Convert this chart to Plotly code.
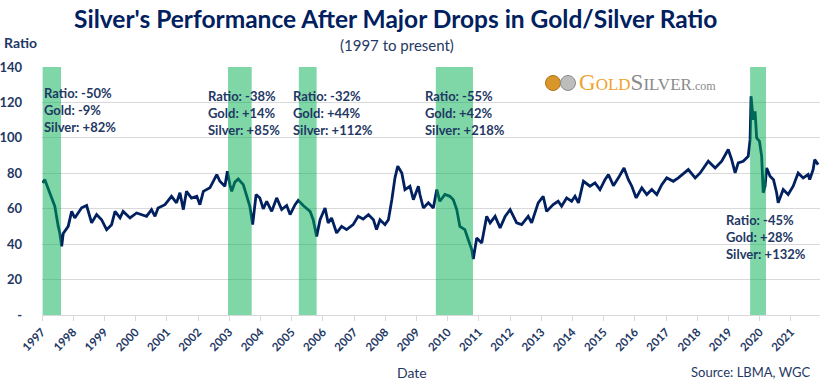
import plotly.graph_objects as go

# ---- data (gold/silver ratio) ----
years = [1997.02, 1997.09, 1997.25, 1997.41, 1997.52, 1997.57, 1997.63, 1997.68, 1997.84, 1997.95,
         1998.05, 1998.27, 1998.43, 1998.59, 1998.75, 1998.91, 1999.07, 1999.23, 1999.34, 1999.50,
         1999.60, 1999.82, 2000.03, 2000.35, 2000.51, 2000.62, 2000.72, 2000.94, 2001.15, 2001.31,
         2001.42, 2001.53, 2001.63, 2001.79, 2001.96, 2002.06, 2002.17, 2002.38, 2002.60, 2002.70,
         2002.86, 2002.94, 2003.02, 2003.08, 2003.18, 2003.29, 2003.45, 2003.56, 2003.66, 2003.75,
         2003.86, 2003.98, 2004.09, 2004.20, 2004.36, 2004.52, 2004.68, 2004.84, 2004.95, 2005.11,
         2005.21, 2005.37, 2005.59, 2005.69, 2005.80, 2005.91, 2006.07, 2006.17, 2006.28, 2006.44,
         2006.60, 2006.76, 2006.97, 2007.13, 2007.29, 2007.46, 2007.62, 2007.72, 2007.83, 2007.99,
         2008.10, 2008.21, 2008.31, 2008.40, 2008.53, 2008.63, 2008.79, 2008.90, 2009.06, 2009.11,
         2009.22, 2009.38, 2009.54, 2009.65, 2009.75, 2009.91, 2010.07, 2010.18, 2010.29, 2010.39,
         2010.55, 2010.66, 2010.77, 2010.82, 2010.93, 2011.09, 2011.25, 2011.36, 2011.52, 2011.68,
         2011.84, 2012.00, 2012.21, 2012.37, 2012.58, 2012.69, 2012.90, 2013.06, 2013.17, 2013.38,
         2013.54, 2013.65, 2013.81, 2013.97, 2014.08, 2014.19, 2014.35, 2014.56, 2014.72, 2014.88,
         2015.04, 2015.15, 2015.31, 2015.50, 2015.65, 2015.79, 2015.90, 2016.04, 2016.22, 2016.38,
         2016.54, 2016.70, 2016.86, 2017.02, 2017.23, 2017.39, 2017.71, 2017.93, 2018.09, 2018.35,
         2018.57, 2018.78, 2018.99, 2019.10, 2019.21, 2019.31, 2019.47, 2019.63, 2019.69, 2019.72,
         2019.79, 2019.85, 2019.90, 2019.99, 2020.06, 2020.11, 2020.17, 2020.22, 2020.33, 2020.44,
         2020.54, 2020.59, 2020.75, 2020.91, 2021.07, 2021.23, 2021.39, 2021.55, 2021.60, 2021.71,
         2021.76, 2021.87]
ratio = [74.6, 76.4, 68.9, 61.4, 50.0, 46.3, 38.8, 46.0, 50.0, 58.5,
         54.8, 60.5, 61.8, 52.0, 56.7, 53.8, 48.2, 51.0, 58.5, 54.8,
         58.5, 54.8, 57.6, 55.7, 59.5, 55.7, 60.4, 62.3, 67.0, 63.3,
         69.0, 59.5, 69.8, 66.0, 67.0, 62.3, 69.8, 71.8, 79.3, 75.5,
         72.7, 81.1, 73.6, 69.8, 75.0, 76.8, 73.6, 67.0, 61.4, 51.0,
         68.0, 66.1, 59.9, 64.2, 58.5, 66.1, 59.5, 61.8, 56.7, 62.3,
         64.7, 61.8, 58.5, 53.8, 44.4, 53.8, 60.4, 52.0, 54.8, 46.3,
         50.0, 48.2, 51.0, 55.7, 54.2, 56.7, 53.8, 48.2, 53.8, 51.0,
         53.8, 65.1, 77.4, 84.0, 80.2, 70.8, 72.7, 65.1, 72.7, 68.0,
         60.4, 63.3, 60.4, 70.8, 64.2, 68.0, 67.0, 65.1, 59.5, 50.0,
         48.2, 42.5, 36.9, 31.6, 43.5, 40.7, 55.7, 52.0, 55.7, 49.2,
         55.7, 59.5, 52.0, 51.0, 55.7, 52.0, 63.3, 67.0, 58.5, 62.3,
         64.2, 61.4, 66.1, 64.2, 67.0, 63.3, 75.5, 72.7, 74.6, 70.8,
         76.4, 79.3, 73.0, 78.3, 83.0, 76.4, 72.7, 66.1, 71.8, 68.0,
         70.8, 68.0, 73.6, 77.4, 75.5, 77.4, 82.1, 77.4, 80.2, 86.8,
         83.0, 86.8, 93.4, 87.7, 80.2, 85.9, 86.8, 89.6, 99.0, 123.5,
         110.3, 115.0, 100.0, 98.1, 89.6, 69.0, 72.7, 83.0, 78.3, 76.4,
         69.0, 63.3, 70.8, 68.0, 72.7, 80.2, 77.4, 79.3, 76.4, 82.1,
         87.7, 84.9]

tick_years = list(range(1997, 2022))
tick_labels = [str(y) for y in tick_years]
y_ticks = [0, 20, 40, 60, 80, 100, 120, 140]
y_labels = ["-", "20", "40", "60", "80", "100", "120", "140"]

# shaded periods of major ratio drops
band_start = [1997.02, 2002.96, 2005.23, 2009.62, 2019.69]
band_end = [1997.61, 2003.72, 2005.80, 2010.81, 2020.20]
ratio_chg = ["-50%", "-38%", "-32%", "-55%", "-45%"]
gold_chg = ["-9%", "+14%", "+44%", "+42%", "+28%"]
silver_chg = ["+82%", "+85%", "+112%", "+218%", "+132%"]
label_x = [1997.05, 2002.33, 2005.05, 2009.27, 2018.92]
label_y = [116, 114, 114, 114, 44]

NAVY = "#002060"
TEXT = "#1F3864"
FONT = "Lato"

fig = go.Figure()
fig.add_trace(go.Scatter(x=years, y=ratio, mode="lines",
                         line=dict(color=NAVY, width=2.8), showlegend=False,
                         hoverinfo="x+y"))

for s, e in zip(band_start, band_end):
    fig.add_shape(type="rect", xref="x", yref="y", x0=s, x1=e, y0=0, y1=140,
                  fillcolor="rgba(0,176,80,0.5)", line_width=0, layer="above")

for i in range(len(ratio_chg)):
    txt = f"Ratio: {ratio_chg[i]}<br>Gold: {gold_chg[i]}<br>Silver: {silver_chg[i]}"
    fig.add_annotation(x=label_x[i], y=label_y[i], xref="x", yref="y",
                       text=f"<b>{txt}</b>", showarrow=False, align="left",
                       xanchor="left", yanchor="middle", xshift=-2,
                       font=dict(family=FONT, size=13, color=TEXT))

# subtitle, axis labels, source
fig.add_annotation(x=0.456, y=1.089, xref="paper", yref="paper", showarrow=False,
                   text="(1997 to present)", font=dict(family=FONT, size=15, color=TEXT),
                   xanchor="center", yanchor="middle")
fig.add_annotation(x=-0.051, y=1.097, xref="paper", yref="paper", showarrow=False,
                   text="<b>Ratio</b>", font=dict(family=FONT, size=14, color=TEXT),
                   xanchor="left", yanchor="middle")
fig.add_annotation(x=0.476, y=-0.23, xref="paper", yref="paper", showarrow=False,
                   text="Date", font=dict(family=FONT, size=14, color=TEXT),
                   xanchor="center", yanchor="middle")
fig.add_annotation(x=0.991, y=-0.23, xref="paper", yref="paper", showarrow=False,
                   text="Source: LBMA, WGC", font=dict(family=FONT, size=13, color=TEXT),
                   xanchor="right", yanchor="middle")

# GoldSilver.com logo (coins + wordmark)
fig.add_shape(type="circle", xref="paper", yref="paper", xsizemode="pixel", ysizemode="pixel",
              xanchor=0.6568, yanchor=0.9355, x0=-7.5, x1=7.5, y0=-7.5, y1=7.5,
              fillcolor="#D9962B", line=dict(color="#B0741A", width=1))
fig.add_shape(type="circle", xref="paper", yref="paper", xsizemode="pixel", ysizemode="pixel",
              xanchor=0.6761, yanchor=0.9355, x0=-7.5, x1=7.5, y0=-7.5, y1=7.5,
              fillcolor="#BDBDBD", line=dict(color="#8C8C8C", width=1))
logo = ("<span style='color:#F0A22E'><span style='font-size:23px'>G</span>"
        "<span style='font-size:17px'>OLD</span></span>"
        "<span style='color:#8A8A8A'><span style='font-size:23px'>S</span>"
        "<span style='font-size:17px'>ILVER</span>"
        "<span style='font-size:12px'>.com</span></span>")
fig.add_annotation(x=0.688, y=0.9355, xref="paper", yref="paper", showarrow=False,
                   text=logo, font=dict(family="Liberation Serif", size=17, color="#8A8A8A"),
                   xanchor="left", yanchor="middle")

fig.update_layout(
    width=821, height=380,
    margin=dict(l=42, r=1, t=67, b=65),
    paper_bgcolor="white", plot_bgcolor="white",
    title=dict(text="<b>Silver's Performance After Major Drops in Gold/Silver Ratio</b>",
               x=0.482, y=0.95, xref="container", yref="container",
               xanchor="center", yanchor="middle",
               font=dict(family=FONT, size=24.5, color=NAVY)),
    font=dict(family=FONT, color=TEXT),
)
fig.update_xaxes(range=[1997.0, 2021.93], tickmode="array", tickvals=tick_years,
                 ticktext=[f"<b>{t}</b>" for t in tick_labels], tickangle=-45,
                 tickfont=dict(family=FONT, size=11.5, color=TEXT), automargin=False,
                 showgrid=False, zeroline=False, showline=True, linecolor="#D9D9D9",
                 ticks="outside", ticklen=5, tickcolor="#D9D9D9")
fig.update_yaxes(range=[0, 140], tickmode="array", tickvals=y_ticks,
                 ticktext=[f"<b>{t}</b>" for t in y_labels],
                 tickfont=dict(family=FONT, size=13, color=TEXT), automargin=False,
                 showgrid=True, gridcolor="#D9D9D9", gridwidth=1, zeroline=False,
                 showline=False, ticks="", ticklabelstandoff=19)

fig.write_html("out.html", config={"displayModeBar": False},
               post_script="document.body.style.margin='0';")
